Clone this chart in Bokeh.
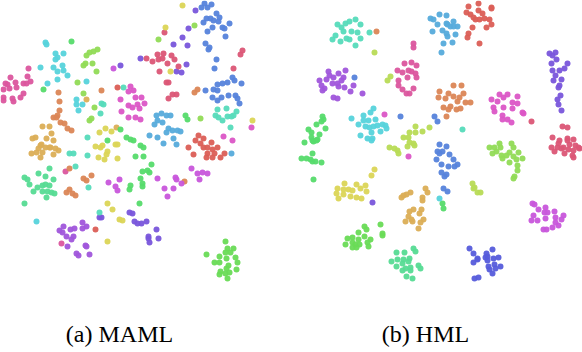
import colorsys
from bokeh.plotting import figure
from bokeh.models import Range1d, ColumnDataSource
from bokeh.core.properties import value
from bokeh.embed import file_html
from bokeh.resources import INLINE

# ---------------- data (t-SNE embeddings, image coordinates) ----------------
# Panel (a) MAML: (class index, points)
maml_c12 = [(204,3),(201,7),(207,7),(211,4),(216,13),(219,17),(210,18),(206,18),(203,22),(213,20),(218,21),(229,23),(212,27),(207,31),(222,27),(224,28),(225,36),(205,43),(209,47),(208,49),(216,59),(214,68),(232,77),(234,80),(227,82),(222,83),(217,84),(213,89),(217,90),(212,97),(217,100),(221,97),(228,95),(235,95),(237,98),(239,103),(241,83),(205,90)]
maml_c14 = [(195,10),(188,28),(182,37),(173,44),(187,45),(186,64),(181,72),(176,71),(140,58),(120,65),(129,212),(132,213),(134,221),(137,223),(141,223),(146,221),(156,229),(148,236),(148,238),(158,238),(149,242),(99,217),(101,217)]
maml_c19 = [(146,58),(152,61),(157,54),(163,53),(158,59),(162,58),(171,55),(167,63),(174,59),(178,66),(159,71),(164,32),(166,82),(168,82),(168,98),(172,94),(176,94),(240,54),(242,50),(233,68)]
maml_c10 = [(45,42),(46,44),(55,53),(63,53),(57,57),(55,59),(40,67),(53,67),(57,71),(63,70),(62,65),(67,75),(57,79),(47,83),(86,81),(76,99),(82,104),(76,104),(78,110),(36,221)]
maml_c5 = [(97,49),(93,51),(89,52),(86,55),(85,63),(83,65),(92,63),(96,71),(77,82),(83,93),(94,107),(91,118),(89,120),(200,118),(194,25),(158,39)]
maml_c18 = [(10,77),(5,83),(7,84),(15,82),(16,87),(9,88),(3,89),(23,83),(26,83),(30,81),(27,76),(28,68),(23,93),(20,97),(12,98),(13,101),(3,97),(3,100),(65,171),(61,243)]
maml_c1 = [(58,92),(59,101),(59,110),(57,115),(53,117),(56,117),(60,122),(64,123),(67,128),(71,130),(83,178),(86,180),(91,175),(69,168),(66,192),(69,189),(72,193),(75,195),(101,90),(194,92),(197,89),(184,181)]
maml_c2 = [(42,126),(49,126),(35,137),(32,138),(46,138),(51,133),(53,140),(40,145),(38,148),(45,147),(50,147),(55,148),(41,144),(36,152),(42,152),(31,153),(49,147),(58,150),(53,154),(40,157),(86,99),(116,127)]
maml_c3 = [(99,132),(105,128),(111,131),(95,146),(100,147),(115,144),(117,144),(102,145),(107,151),(106,154),(98,157),(104,159),(117,158),(107,203),(112,209),(119,219),(122,220),(107,241),(182,5),(165,27),(170,71),(252,120)]
maml_c17 = [(130,86),(133,90),(128,91),(120,99),(135,97),(141,97),(144,103),(137,104),(128,105),(132,107),(139,108),(121,111),(128,117),(135,117),(140,119),(223,136),(232,140),(251,127)]
maml_c11 = [(161,113),(166,115),(170,115),(156,115),(157,120),(154,124),(162,122),(168,128),(166,132),(172,130),(177,130),(180,131),(149,135),(157,137),(173,138),(163,143),(176,144),(231,153)]
maml_c9 = [(217,109),(226,108),(236,111),(215,115),(218,117),(222,120),(227,116),(231,116),(233,115),(230,127),(101,103),(103,104),(100,113),(123,87),(87,137),(69,153),(73,153),(87,155),(75,166),(88,187),(99,212)]
maml_c0 = [(198,135),(203,138),(195,140),(200,143),(211,142),(188,147),(203,147),(207,147),(217,147),(212,149),(193,154),(207,153),(206,157),(214,153),(212,157),(220,157),(224,153),(117,87),(95,229)]
maml_c7 = [(107,140),(126,137),(130,139),(133,140),(140,145),(143,147),(120,129),(135,156),(143,156),(151,164),(147,170),(149,172),(142,171),(140,178),(142,183),(142,186),(130,185),(129,189),(139,203),(185,115),(187,119),(71,41),(43,89)]
maml_c8 = [(24,177),(27,179),(29,184),(38,173),(45,176),(49,168),(53,179),(37,187),(42,185),(45,184),(49,185),(33,191),(42,191),(47,191),(51,192),(54,193),(46,197),(24,203)]
maml_c16 = [(108,182),(115,186),(117,190),(119,179),(157,178),(164,188),(167,196),(173,188),(175,177),(176,179),(181,183),(191,168),(197,173),(202,172),(207,173),(199,179),(113,68)]
maml_c15 = [(63,226),(59,230),(62,232),(70,229),(74,228),(82,222),(82,228),(86,226),(66,236),(71,239),(73,236),(67,246),(85,245),(86,246),(76,253),(78,255),(89,254)]
maml_c6 = [(225,241),(227,248),(233,248),(230,252),(225,252),(219,256),(226,258),(235,257),(206,254),(214,262),(219,262),(237,262),(228,265),(226,268),(220,271),(219,274),(225,273),(229,272),(236,269),(227,278)]

# Panel (b) HML
hml_c9 = [(337,24),(341,27),(345,23),(349,21),(355,19),(360,24),(343,31),(351,31),(357,32),(335,35),(332,39),(340,41),(346,38),(349,39),(355,45),(360,38),(369,32),(462,129)]
hml_c11 = [(430,18),(433,19),(439,14),(446,15),(437,24),(446,23),(447,24),(453,21),(450,26),(453,26),(457,26),(432,31),(442,30),(446,33),(447,36),(455,34),(452,42),(443,43),(441,52)]
hml_c0 = [(468,6),(478,3),(491,7),(491,8),(466,12),(470,14),(473,17),(478,10),(482,13),(475,19),(479,19),(484,18),(489,19),(491,24),(486,27),(472,27),(468,33),(467,37),(479,43)]
hml_c14 = [(549,53),(555,52),(552,55),(556,59),(551,63),(567,63),(552,70),(559,70),(564,68),(555,75),(553,80),(561,79),(559,85),(558,87),(560,95),(557,99),(558,104),(561,110),(372,202)]
hml_c15 = [(328,71),(338,73),(345,70),(333,77),(341,80),(343,77),(319,80),(326,79),(329,75),(321,85),(332,83),(337,83),(338,86),(344,87),(324,88),(322,90),(350,91),(353,85),(333,97),(337,98),(362,93)]
hml_c18 = [(413,43),(413,47),(404,63),(411,62),(416,65),(397,70),(402,72),(408,70),(411,71),(415,73),(407,77),(416,77),(398,80),(398,85),(402,89),(406,93),(409,93),(413,88)]
hml_c1 = [(453,85),(461,85),(439,91),(448,93),(438,97),(445,98),(453,96),(459,97),(463,93),(457,101),(465,102),(470,102),(443,107),(450,106),(448,109),(456,109),(460,108),(446,116),(376,31)]
hml_c17 = [(499,94),(507,94),(517,96),(491,99),(497,101),(503,97),(512,102),(517,103),(493,107),(503,107),(512,108),(494,111),(502,115),(507,119),(511,122),(502,119),(522,112),(523,113),(384,114),(408,156)]
hml_c7 = [(322,116),(323,119),(321,121),(316,124),(325,128),(308,129),(311,132),(319,134),(311,137),(317,139),(313,141),(304,142),(312,140),(316,140),(312,153),(301,158),(306,158),(310,159),(312,161),(315,161),(321,162),(313,179),(442,203),(443,208)]
hml_c10 = [(373,108),(370,112),(363,115),(368,120),(375,119),(351,118),(358,124),(363,120),(365,126),(369,127),(373,126),(377,125),(382,124),(385,125),(386,128),(380,131),(371,132),(360,135),(367,138),(372,138),(371,140),(439,198)]
hml_c4 = [(415,126),(422,131),(409,132),(415,132),(429,127),(403,137),(408,137),(413,143),(409,142),(407,146),(389,147),(394,148),(397,150),(398,153),(414,145),(472,183),(474,187),(473,188),(477,192),(480,192),(390,76),(387,80),(374,52)]
hml_c12 = [(439,144),(446,146),(437,151),(442,151),(439,153),(449,154),(453,159),(457,164),(454,166),(448,166),(441,164),(436,159),(441,172),(444,176),(446,174),(443,188),(447,191),(434,116),(437,121),(400,116),(354,77)]
hml_c5 = [(489,147),(494,147),(499,143),(500,147),(511,143),(513,147),(492,153),(496,151),(501,155),(506,155),(509,152),(513,156),(518,152),(522,158),(516,159),(509,162),(502,158),(517,165),(517,170),(514,176),(513,178)]
hml_c19 = [(562,126),(567,127),(552,137),(558,143),(567,138),(573,139),(551,147),(557,147),(563,147),(569,144),(575,145),(578,147),(559,140),(567,140),(554,151),(561,148),(568,149),(573,150),(579,148),(564,153),(572,155),(573,157),(531,121)]
hml_c3 = [(374,169),(371,175),(344,183),(337,188),(343,189),(348,189),(352,190),(356,184),(360,188),(365,185),(366,191),(336,193),(343,194),(350,196),(356,197),(361,198),(338,198)]
hml_c2 = [(425,188),(427,192),(410,192),(406,194),(403,195),(401,197),(422,197),(422,200),(421,209),(419,213),(413,209),(409,211),(408,216),(405,221),(411,219),(412,221),(423,219),(420,222),(418,228)]
hml_c6 = [(380,224),(364,226),(366,229),(358,232),(382,233),(382,235),(352,237),(347,238),(358,239),(364,236),(370,239),(367,242),(352,242),(355,244),(359,244),(345,244),(352,247),(356,247),(368,246)]
hml_c8 = [(413,248),(415,251),(396,252),(404,252),(397,259),(403,259),(409,258),(391,261),(402,263),(408,261),(396,266),(405,268),(410,267),(418,265),(420,268),(402,270),(410,270),(406,276),(412,278)]
hml_c13 = [(469,248),(473,253),(492,249),(486,253),(487,256),(485,257),(493,258),(498,257),(473,262),(477,259),(477,258),(487,260),(494,264),(500,266),(488,266),(495,268),(489,269),(492,273),(474,278),(478,277)]
hml_c16 = [(532,203),(534,204),(545,207),(538,209),(544,212),(547,212),(554,211),(533,215),(563,215),(545,218),(555,217),(531,220),(537,220),(561,219),(555,222),(558,225),(552,227),(543,229),(546,229)]

captions = ["(a) MAML", "(b) HML"]
caption_x = [119, 425]
caption_y = [333, 333]

groups = [
    (12, maml_c12), (14, maml_c14), (19, maml_c19), (10, maml_c10), (5, maml_c5), (18, maml_c18),
    (1, maml_c1), (2, maml_c2), (3, maml_c3), (17, maml_c17), (11, maml_c11), (9, maml_c9),
    (0, maml_c0), (7, maml_c7), (8, maml_c8), (16, maml_c16), (15, maml_c15), (6, maml_c6),
    (9, hml_c9), (11, hml_c11), (0, hml_c0), (14, hml_c14), (15, hml_c15), (18, hml_c18),
    (1, hml_c1), (17, hml_c17), (7, hml_c7), (10, hml_c10), (4, hml_c4), (12, hml_c12),
    (5, hml_c5), (19, hml_c19), (3, hml_c3), (2, hml_c2), (6, hml_c6), (8, hml_c8),
    (13, hml_c13), (16, hml_c16),
]

# seaborn-like "hls" palette with 20 hues
def hls_color(i, n=20):
    h = (i / n + 0.01) % 1.0
    r, g, b = colorsys.hls_to_rgb(h, 0.6, 0.65)
    return "#%02x%02x%02x" % (int(r * 255), int(g * 255), int(b * 255))

xs, ys, cols = [], [], []
for cls, pts in groups:
    for (x, y) in pts:
        xs.append(x)
        ys.append(y)
        cols.append(hls_color(cls))

src = ColumnDataSource(dict(x=xs, y=ys, c=cols))

# Bokeh's page template sets body margin to 0, so map image pixels 1:1
p = figure(width=582, height=352, output_backend="svg", toolbar_location=None,
           x_range=Range1d(0, 582), y_range=Range1d(352, 0), min_border=0)
p.axis.visible = False
p.grid.visible = False
p.outline_line_color = None
p.background_fill_color = "white"
p.border_fill_color = "white"

p.scatter("x", "y", source=src, size=6, fill_color="c", line_color=None, fill_alpha=0.95)

p.text(x=caption_x, y=caption_y, text=captions, text_align="center", text_baseline="middle",
       text_font=value("Liberation Serif"), text_font_size="24px", text_color="black")

open("out.html", "w").write(file_html(p, INLINE))
